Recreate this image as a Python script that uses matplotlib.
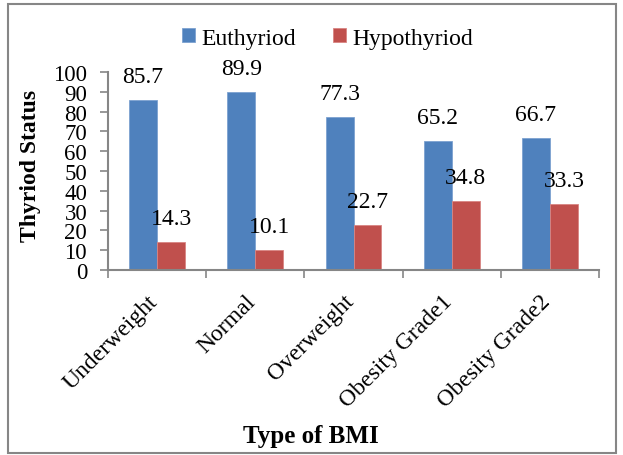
import matplotlib.pyplot as plt
from matplotlib.patches import Rectangle

categories = ['Underweight', 'Normal', 'Overweight', 'Obesity Grade1', 'Obesity Grade2']
euthyriod = [85.7, 89.9, 77.3, 65.2, 66.7]
hypothyriod = [14.3, 10.1, 22.7, 34.8, 33.3]
yticks = list(range(0, 101, 10))

plt.rcParams['font.family'] = ['Liberation Serif', 'DejaVu Serif']

W, H = 623, 456
fig = plt.figure(figsize=(W / 100, H / 100), dpi=100)
ax = fig.add_axes([108 / W, 1 - 271 / H, 491 / W, 198 / H])

blue = '#4F81BD'
red = '#C0504D'
grey = '#868686'
bw = 0.285

xs = [i + 0.5 for i in range(len(categories))]
b1 = ax.bar([x - bw / 2 for x in xs], euthyriod, bw, color=blue,
            edgecolor='#7DA2D0', linewidth=0.6, label='Euthyriod')
b2 = ax.bar([x + bw / 2 for x in xs], hypothyriod, bw, color=red,
            edgecolor='#D98583', linewidth=0.6, label='Hypothyriod')

# value labels over each bar
for bars, vals in ((b1, euthyriod), (b2, hypothyriod)):
    for rect, v in zip(bars, vals):
        ax.annotate(f'{v:.1f}', xy=(rect.get_x() + rect.get_width() / 2, v),
                    xytext=(0, 13), textcoords='offset pixels',
                    ha='center', va='bottom', fontsize=17)

ax.set_xlim(0, len(categories))
ax.set_ylim(0, 100)
ax.set_yticks(yticks)
ax.set_xticks(range(len(categories) + 1))
ax.set_xticklabels([])
ax.tick_params(axis='y', direction='out', length=6, width=1.2, color=grey,
               labelsize=16.5, pad=9)
ax.tick_params(axis='x', direction='out', length=6, width=1.2, color=grey)

# category names, rotated 45 degrees
for x, name in zip(xs, categories):
    ax.annotate(name, xy=(x, 0), xycoords=('data', 'axes fraction'),
                xytext=(-3, -28), textcoords='offset pixels',
                rotation=45, rotation_mode='anchor', ha='right', va='center',
                fontsize=17)

for side in ('top', 'right'):
    ax.spines[side].set_visible(False)
for side in ('left', 'bottom'):
    ax.spines[side].set_color(grey)
    ax.spines[side].set_linewidth(1.5)

fig.text(30.5 / W, 1 - 166 / H, 'Thyriod Status', rotation=90,
         ha='center', va='center', fontsize=17, fontweight='bold')
fig.text(311 / W, 1 - 437 / H, 'Type of BMI', ha='center', va='center',
         fontsize=18, fontweight='bold')

fig.legend(handles=[b1, b2], loc='center', ncol=2, frameon=False,
           bbox_to_anchor=(327.5 / W, 1 - 39 / H), fontsize=17,
           handlelength=0.55, handleheight=0.55, handletextpad=0.25,
           columnspacing=1.6, borderpad=0)

# chart border
fig.patches.append(Rectangle((7.5 / W, 2 / H), 608 / W, 449 / H,
                             transform=fig.transFigure, fill=False,
                             edgecolor=grey, linewidth=1.5))

fig.savefig('out.png', dpi=100)
